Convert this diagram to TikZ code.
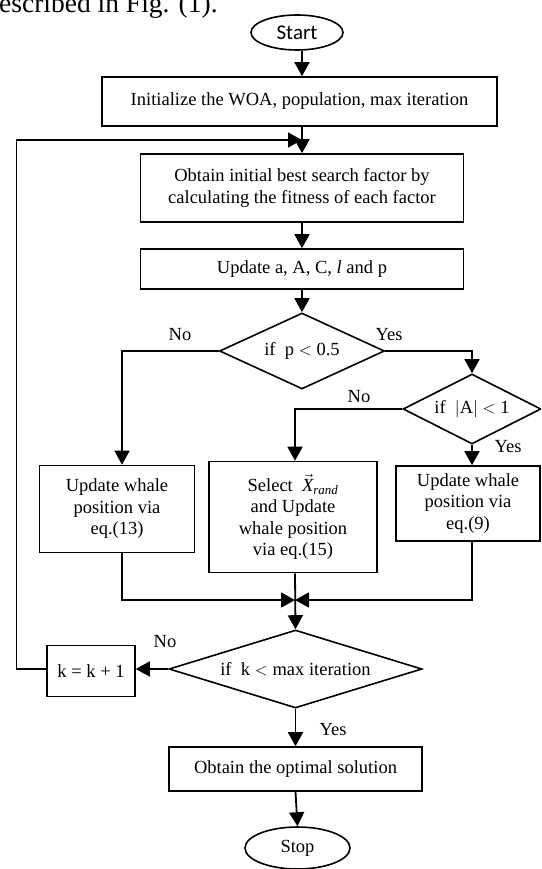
\documentclass[tikz,border=0pt]{standalone}
\usepackage{fontspec}
\setmainfont{Liberation Serif}
\newfontfamily\calibrish{Carlito}
\usetikzlibrary{shapes.geometric,arrows.meta}
\begin{document}
\begin{tikzpicture}[x=1pt,y=-1pt,
  every node/.style={font=\fontsize{18.5}{21.5}\selectfont},
  proc/.style={draw,line width=1.6pt,rectangle,align=center,inner sep=0pt},
  term/.style={draw,line width=1.6pt,ellipse,inner sep=0pt},
  decis/.style={draw,line width=1.6pt,diamond,inner sep=0pt},
  arr/.style={line width=1.8pt,-{Triangle[width=15pt,length=14pt]}},
  lbl/.style={inner sep=0pt}]
\useasboundingbox (0,0) rectangle (541,869);
\clip (0,0) rectangle (541,869);
\node[anchor=base west,inner sep=0pt,font=\fontsize{27.5}{30}\selectfont] (cap) at (-1,13) {escribed in Fig. (1).};
\node[term,minimum width=92pt,minimum height=35pt,font=\calibrish\fontsize{21}{24}\selectfont] (start) at (297,32.5) {Start};
\node[proc,minimum width=395pt,minimum height=49pt] (init) at (299.5,101.5) {Initialize the WOA, population, max iteration};
\node[proc,minimum width=323pt,minimum height=68pt] (obtain) at (302,188) {Obtain initial best search factor by\\calculating the fitness of each factor};
\node[proc,minimum width=323pt,minimum height=40pt] (upd) at (302,269) {Update a, A, C, \textit{l} and p};
\node[decis,aspect=2.17,minimum width=165pt,minimum height=76pt] (d1) at (302,351) {if~ p $<$ 0.5};
\node[decis,aspect=1.97,minimum width=138pt,minimum height=70pt] (d2) at (472,409) {if~ $|$A$|$ $<$ 1};
\node[proc,minimum width=155pt,minimum height=87pt] (b13) at (117,509) {Update whale\\position via\\eq.(13)};
\node[proc,minimum width=168pt,minimum height=111pt] (b15) at (293,517) {Select~ $\vec{\mathit{X}}_{\mathit{rand}}$\\and Update\\whale position\\via eq.(15)};
\node[proc,minimum width=144pt,minimum height=75pt] (b9) at (468,503.5) {Update whale\\position via\\eq.(9)};
\node[decis,aspect=3.24,minimum width=253pt,minimum height=78pt] (d3) at (295.5,669) {if~ k $<$ max iteration};
\node[proc,minimum width=88pt,minimum height=51pt] (kb) at (91,671) {k = k + 1};
\node[proc,minimum width=253pt,minimum height=44pt] (opt) at (295.5,769) {Obtain the optimal solution};
\node[term,minimum width=105pt,minimum height=42pt] (stop) at (297.5,848) {Stop};
\node[lbl] (no1) at (180,335) {No};
\node[lbl] (yes1) at (389,335) {Yes};
\node[lbl] (no2) at (359,397) {No};
\node[lbl] (yes2) at (508,447) {Yes};
\node[lbl] (no3) at (165,642) {No};
\node[lbl] (yes3) at (333,730) {Yes};
\coordinate (lp) at (16.5,140);
\coordinate (lpend) at (obtain.north |- lp);
\coordinate (m) at (295,600);
\coordinate (b13in) at ([xshift=5pt]b13.north);
\coordinate (b15in) at (295,0);
\draw[arr] (start.south -| obtain.north) -- (init.north -| obtain.north);
\draw[arr] (init.south -| obtain.north) -- (obtain.north);
\draw[arr] (kb.west |- d3.west) -- (d3.west -| lp) -- (lp) -- (lpend);
\draw[arr] (obtain.south) -- (upd.north);
\draw[arr] (upd.south -| d1.north) -- (d1.north);
\draw[arr] (d1.west) -| (b13in);
\draw[arr] (d1.east) -| (d2.north);
\draw[arr] (d2.west) -| (b15in |- b15.north);
\draw[arr] (d2.south) -- (d2.south |- b9.north);
\draw[arr] ([xshift=5pt]b13.south) |- (m);
\draw[arr] (b9.south -| d2.south) |- (m);
\draw[arr] (b15in |- b15.south) -- (d3.north);
\draw[arr] (d3.west) -- (kb.east |- d3.west);
\draw[arr] (d3.south) -- (opt.north);
\draw[arr] (opt.south) -- (stop.north);
\end{tikzpicture}
\end{document}
